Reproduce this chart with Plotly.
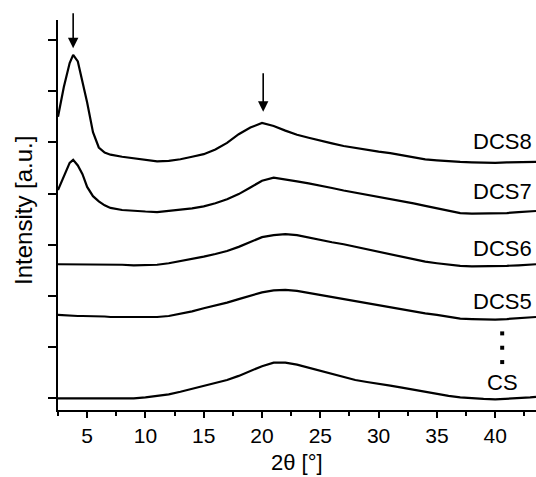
import plotly.graph_objects as go

# 2-theta grid (degrees)
theta = [2.5, 3.0, 3.5, 3.8, 4.2, 4.6, 5.0, 5.5, 6.0, 6.5, 7.0, 8, 9, 10, 11, 12, 13, 14, 15, 16,
         17, 18, 19, 20, 21, 22, 23, 24, 25, 26, 27, 28, 29, 30, 31, 32, 33, 34, 35, 36,
         37, 38, 39, 40, 41, 42, 43, 43.5]

# offset intensities (a.u.)
dcs8 = [5.50, 6.08, 6.55, 6.71, 6.58, 6.20, 5.78, 5.20, 4.90, 4.80, 4.76, 4.72, 4.69, 4.66, 4.63, 4.64,
        4.67, 4.72, 4.77, 4.86, 4.99, 5.16, 5.29, 5.38, 5.32, 5.23, 5.15, 5.09, 5.03, 4.98, 4.93, 4.89,
        4.85, 4.82, 4.79, 4.75, 4.71, 4.67, 4.65, 4.63, 4.62, 4.61, 4.60, 4.60, 4.61, 4.61, 4.62, 4.62]
dcs7 = [4.07, 4.35, 4.60, 4.66, 4.55, 4.38, 4.13, 3.95, 3.85, 3.77, 3.72, 3.68, 3.66, 3.65, 3.64, 3.66,
        3.68, 3.71, 3.75, 3.81, 3.89, 3.99, 4.12, 4.25, 4.31, 4.28, 4.24, 4.20, 4.16, 4.11, 4.06, 4.02,
        3.98, 3.94, 3.90, 3.86, 3.81, 3.76, 3.71, 3.66, 3.62, 3.61, 3.61, 3.61, 3.62, 3.64, 3.65, 3.66]
dcs6 = [2.62, 2.62, 2.62, 2.62, 2.62, 2.62, 2.62, 2.62, 2.62, 2.62, 2.62, 2.61, 2.60, 2.60, 2.61, 2.64,
        2.68, 2.72, 2.77, 2.82, 2.88, 2.96, 3.05, 3.15, 3.19, 3.21, 3.19, 3.14, 3.09, 3.05, 3.01, 2.96,
        2.91, 2.86, 2.81, 2.76, 2.71, 2.67, 2.64, 2.61, 2.59, 2.58, 2.58, 2.58, 2.59, 2.60, 2.61, 2.62]
dcs5 = [1.63, 1.62, 1.62, 1.61, 1.61, 1.61, 1.61, 1.61, 1.60, 1.60, 1.59, 1.59, 1.58, 1.58, 1.59, 1.61,
        1.65, 1.70, 1.76, 1.81, 1.87, 1.94, 2.01, 2.07, 2.11, 2.12, 2.10, 2.06, 2.02, 1.97, 1.93, 1.89,
        1.85, 1.82, 1.78, 1.74, 1.70, 1.66, 1.63, 1.59, 1.56, 1.55, 1.54, 1.54, 1.55, 1.57, 1.58, 1.59]
cs = [0.00, 0.00, 0.00, 0.00, 0.00, 0.00, 0.00, 0.00, 0.00, 0.00, 0.00, -0.01, 0.00, 0.02, 0.05, 0.08,
      0.13, 0.19, 0.25, 0.30, 0.36, 0.44, 0.54, 0.63, 0.70, 0.70, 0.66, 0.60, 0.54, 0.48, 0.42, 0.36,
      0.32, 0.29, 0.25, 0.21, 0.17, 0.12, 0.08, 0.05, 0.02, 0.00, -0.01, -0.02, -0.01, 0.01, 0.02, 0.03]

series = [("DCS8", dcs8), ("DCS7", dcs7), ("DCS6", dcs6), ("DCS5", dcs5), ("CS", cs)]

# label positions (data units)
label_names = ["DCS8", "DCS7", "DCS6", "DCS5"]
label_y = [5.02, 4.04, 2.93, 1.89]
label_x = 43.3
cs_label = ("CS", 40.6, 0.31)
dots_x = [40.6, 40.6, 40.6]
dots_y = [1.27, 0.99, 0.71]

# arrows: x, tip y, tail y
arrow_x = [3.8, 20.1]
arrow_tip = [6.84, 5.60]
arrow_tail = [7.55, 6.38]

FONT = "Arial, Liberation Sans, sans-serif"

fig = go.Figure()
for name, vals in series:
    fig.add_trace(go.Scatter(x=theta, y=vals, mode="lines", name=name,
                             line=dict(color="black", width=2.2), showlegend=False))

fig.add_trace(go.Scatter(x=dots_x, y=dots_y, mode="markers",
                         marker=dict(symbol="square", size=4, color="black"), showlegend=False))

for name, yv in zip(label_names, label_y):
    fig.add_annotation(x=label_x, y=yv, text=name, showarrow=False, xanchor="right",
                       yanchor="middle", font=dict(family=FONT, size=22, color="black"))
fig.add_annotation(x=cs_label[1], y=cs_label[2], text=cs_label[0], showarrow=False,
                   xanchor="center", yanchor="middle", font=dict(family=FONT, size=22, color="black"))

for ax_, tip, tail in zip(arrow_x, arrow_tip, arrow_tail):
    fig.add_annotation(x=ax_, y=tip, ax=ax_, ay=tail, xref="x", yref="y", axref="x", ayref="y",
                       showarrow=True, arrowhead=2, arrowsize=1.3, arrowwidth=1.6,
                       arrowcolor="black", text="")

# axis titles (paper coords of the 390px-tall, 478px-wide plot area)
fig.add_annotation(x=0.5, y=-52 / 390, xref="paper", yref="paper", text="2θ [°]", showarrow=False,
                   xanchor="center", yanchor="middle", font=dict(family=FONT, size=22, color="black"))
fig.add_annotation(x=-35 / 478, y=(410 - 211) / 390, xref="paper", yref="paper", text="Intensity [a.u.]",
                   showarrow=False, textangle=-90, xanchor="center", yanchor="middle",
                   font=dict(family=FONT, size=24, color="black"))

fig.update_layout(
    width=536, height=477,
    margin=dict(l=58, r=0, t=20, b=67),
    paper_bgcolor="white", plot_bgcolor="white",
    font=dict(family=FONT, size=20, color="black"),
    xaxis=dict(range=[2.5, 43.5], tickmode="array", tickvals=[5, 10, 15, 20, 25, 30, 35, 40],
               ticks="outside", ticklen=6, tickwidth=1.5, tickcolor="black",
               showline=True, linecolor="black", linewidth=2, showgrid=False, zeroline=False,
               tickfont=dict(size=21, family=FONT),
               minor=dict(ticks="outside", ticklen=4, tickwidth=1.5, tickcolor="black",
                          tickmode="array", tickvals=[2.5, 7.5, 12.5, 17.5, 22.5, 27.5, 32.5, 37.5, 42.5])),
    yaxis=dict(range=[-0.226, 7.39], tickmode="array", tickvals=[0, 1, 2, 3, 4, 5, 6, 7],
               ticks="outside", ticklen=8, tickwidth=1.5, tickcolor="black", showticklabels=False,
               showline=True, linecolor="black", linewidth=2, showgrid=False, zeroline=False),
)

# remove the default 8px page margin so the figure sits at the window's top-left corner
fig.write_html("out.html", config={"displayModeBar": False},
               post_script="document.body.style.margin='0px';document.body.style.overflow='hidden';")
